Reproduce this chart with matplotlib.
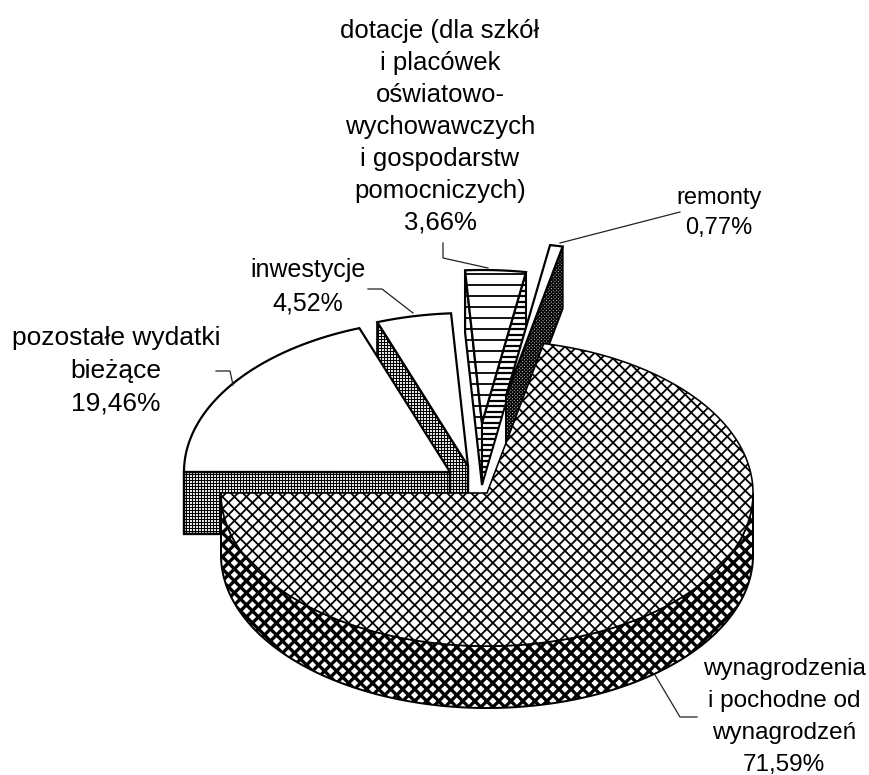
import numpy as np
import matplotlib
matplotlib.use("Agg")
import matplotlib.pyplot as plt
from matplotlib.patches import Polygon
from matplotlib.collections import LineCollection

plt.rcParams['font.family'] = ['Liberation Sans', 'DejaVu Sans']

categories = ["wynagrodzenia", "pozostale", "inwestycje", "dotacje", "remonty"]
values = [71.59, 19.46, 4.52, 3.66, 0.77]
labels = [
    "wynagrodzenia\ni pochodne od\nwynagrodzeń\n71,59%",
    "pozostałe wydatki\nbieżące\n19,46%",
    "inwestycje\n4,52%",
    "dotacje (dla szkół\ni placówek\noświatowo-\nwychowawczych\ni gospodarstw\npomocniczych)\n3,66%",
    "remonty\n0,77%",
]

# Layout of the pie (in pixels), each slice has its own exploded centre
start_angle = 12.3
rx, ry, depth = 266, 153, 62
centres = [(487, 493), (450, 472), (468, 466), (482, 423), (506, 396)]
label_pos = [(784, 717), (116, 371), (308, 287), (440, 127), (719, 213)]
label_size = [17.5, 19, 18, 18.5, 17]
label_spacing = [1.58, 1.45, 1.52, 1.42, 1.5]
leaders = [
    [(697, 717), (680, 717), (655, 675)],
    [(216, 371), (230, 371), (233, 385)],
    [(368, 289), (382, 289), (413, 313)],
    [(443, 243), (443, 258), (488, 268)],
    [(680, 212), (560, 243)],
]

fig = plt.figure(figsize=(8.7, 7.75), dpi=100)
ax = fig.add_axes([0, 0, 1, 1])
ax.set_xlim(0, 870)
ax.set_ylim(775, 0)
ax.axis("off")

z = [1]


def rim(centre, a, down=0):
    # a is in degrees clockwise from the top of the pie
    a = np.radians(a)
    return centre[0] + rx * np.sin(a), centre[1] - ry * np.cos(a) + down


def hatched(verts, angles, spacing, lw, edge=2.0):
    poly = Polygon(verts, closed=True, facecolor="white", edgecolor="none", zorder=z[0])
    ax.add_patch(poly)
    z[0] += 1
    for ang in angles:
        t = np.radians(ang)
        d = np.array([np.cos(t), np.sin(t)])
        n = np.array([-d[1], d[0]])
        offs = np.arange(-1200, 1200, spacing)
        segs = [[n * o + d * -1200, n * o + d * 1200] for o in offs]
        lc = LineCollection(segs, colors="black", linewidths=lw * 0.72, zorder=z[0])
        ax.add_collection(lc)
        lc.set_clip_path(poly)
    z[0] += 1
    ax.add_patch(Polygon(verts, closed=True, fill=False, edgecolor="black",
                         linewidth=edge * 0.72, joinstyle="miter", zorder=z[0]))
    z[0] += 1


def wall(centre, a, style):
    p = rim(centre, a)
    verts = [centre, p, (p[0], p[1] + depth), (centre[0], centre[1] + depth)]
    hatched(verts, *style)


def top(centre, a0, a1, style):
    arc = [rim(centre, a) for a in np.arange(a0, a1, 0.5)] + [rim(centre, a1)]
    hatched([centre] + arc, *style)


# Slice angles from the values
cum = np.cumsum([0] + values)
a0 = start_angle + cum[:-1] * 3.6
a1 = start_angle + cum[1:] * 3.6

grey = ([0, 90], 3.0, 1.1, 2.4)
white = ([0], 1000, 0.1, 2.2)
dark = ([45, -45], 2.4, 1.5, 2.0)
main_top = ([45, -45], 8.5, 1.8, 1.6)
main_side = ([45, -45], 8.5, 3.3, 2.0)
stripes = ([0], 11, 1.8, 2.2)
stripes_side = ([0], 5.5, 2.2, 2.0)

# Back slices first, the big slice goes on top of everything
wall(centres[2], a0[2], grey)
wall(centres[1], a0[1], grey)
top(centres[1], a0[1], a1[1], white)
top(centres[2], a0[2], a1[2], white)
wall(centres[3], a0[3], stripes)
wall(centres[3], a1[3], stripes_side)
top(centres[3], a0[3], a1[3], stripes)
wall(centres[4], a1[4], dark)
top(centres[4], a0[4], a1[4], white)

# Side of the big slice, front half of the rim only
front = np.arange(90, 270.5, 0.5)
upper = [rim(centres[0], a) for a in front]
lower = [rim(centres[0], a, depth) for a in front]
hatched(upper + lower[::-1], *main_side)
top(centres[0], a0[0], a1[0], main_top)

# Labels and leader lines
for text, pos, size, spacing in zip(labels, label_pos, label_size, label_spacing):
    ax.text(pos[0], pos[1], text, ha="center", va="center", fontsize=size,
            linespacing=spacing, color="black", zorder=z[0])
for line in leaders:
    xs, ys = zip(*line)
    ax.plot(xs, ys, color="#222222", linewidth=0.9, zorder=z[0])

fig.savefig("out.png", dpi=100)
